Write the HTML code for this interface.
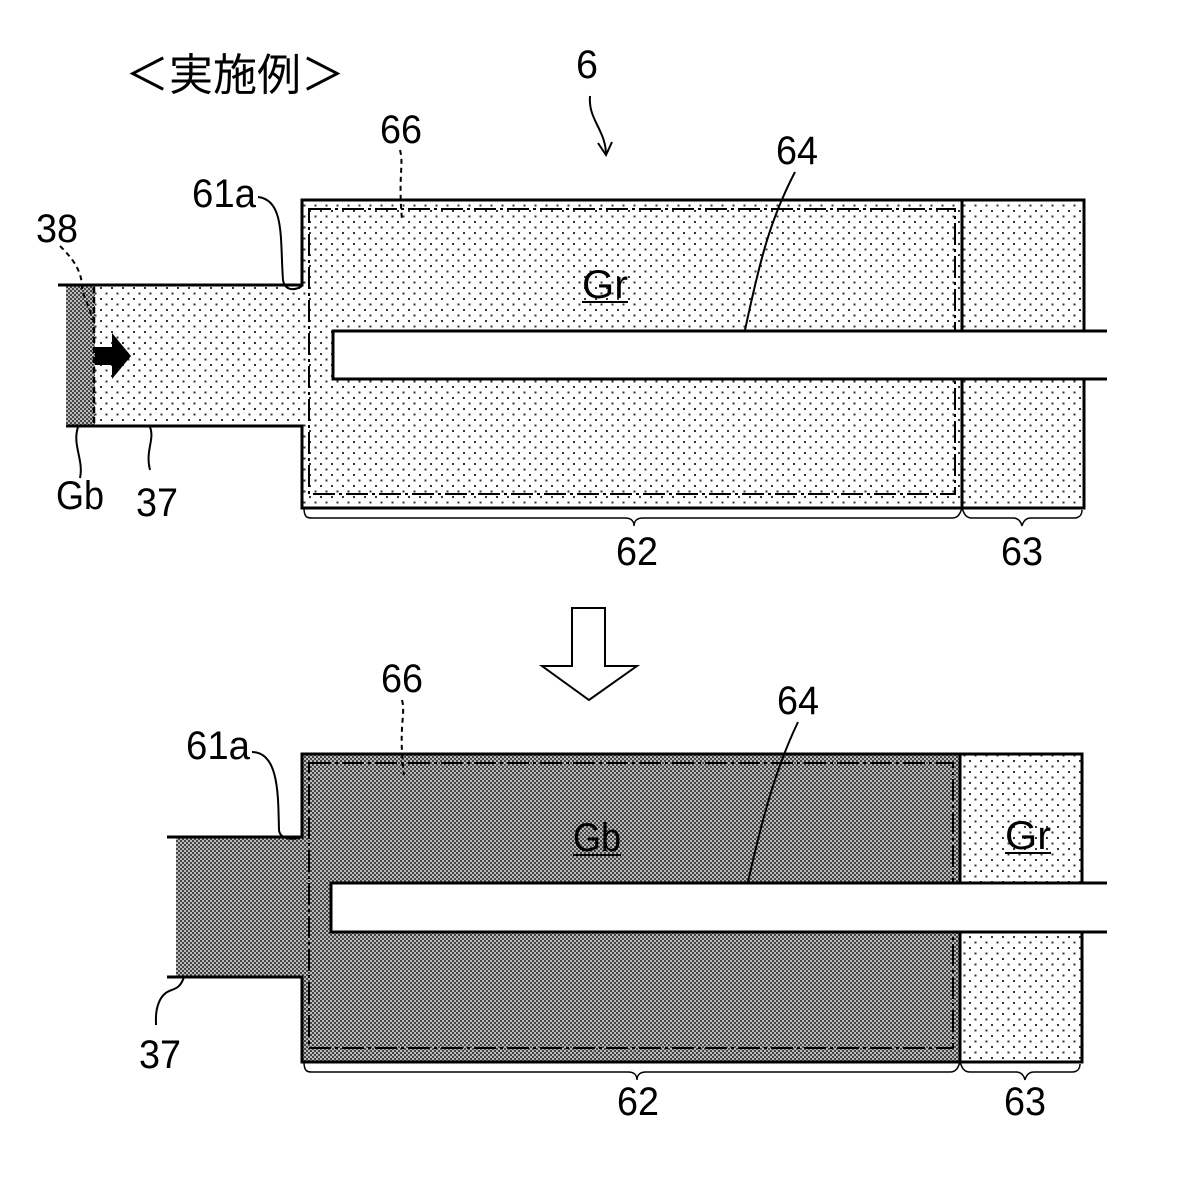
<!DOCTYPE html>
<html><head><meta charset="utf-8"><style>html,body{margin:0;padding:0;background:#fff}svg{display:block}text{font-family:"Liberation Sans","Noto Sans CJK JP",sans-serif;fill:#000}</style></head><body>
<svg width="1200" height="1177" viewBox="0 0 1200 1177" xmlns="http://www.w3.org/2000/svg">
<defs>
<pattern id="dots" width="11" height="11" patternUnits="userSpaceOnUse"><rect width="11" height="11" fill="#fff"/><rect x="1" y="1" width="2" height="2" fill="#333"/><rect x="6.5" y="6.5" width="2" height="2" fill="#333"/></pattern>
<pattern id="dark" width="4" height="4" patternUnits="userSpaceOnUse"><rect width="4" height="4" fill="#bbb"/><rect width="2" height="2" fill="#444"/><rect x="2" y="2" width="2" height="2" fill="#444"/></pattern>
</defs>
<rect x="95" y="286" width="208" height="140" fill="url(#dots)"/>
<rect x="66" y="286" width="29" height="140" fill="url(#dark)"/>
<rect x="302" y="201" width="660" height="307" fill="url(#dots)"/>
<rect x="962" y="201" width="122" height="307" fill="url(#dots)"/>
<g stroke="#000" stroke-width="3" fill="none">
<path d="M58 285 H302 V200 H1084 V508 H302 V426 H66"/>
<line x1="962" y1="200" x2="962" y2="508"/>
<path d="M94 287 V426" stroke-dasharray="6,4" stroke-width="2.5"/>
<rect x="309" y="209" width="646" height="285" stroke-dasharray="22,4,3,4" stroke-width="2"/>
</g>
<path d="M333 331 H1107 V379 H333 Z" fill="#fff" stroke="none"/>
<path d="M1107 331 H333 V379 H1107" fill="none" stroke="#000" stroke-width="3"/>
<path d="M95 347 H112 V333 L131 356 L112 379 V365 H95 Z" fill="#000"/>
<g stroke="#000" stroke-width="1.5" fill="none">
<path d="M304 508 C304 518 308 518 312 518 H625 C632 518 634 522 634 526 C634 522 636 518 643 518 H952 C958 518 960 514 962 508 C964 514 966 518 972 518 H1013 C1019 518 1021 522 1022 526 C1023 522 1025 518 1031 518 H1074 C1080 518 1082 514 1082 510"/>
</g>
<path d="M572 608 H605 V666 H637 L589 700 L542 666 H572 Z" fill="#fff" stroke="#000" stroke-width="2"/>
<rect x="176" y="838" width="127" height="139" fill="url(#dark)"/>
<rect x="302" y="755" width="658" height="307" fill="url(#dark)"/>
<rect x="960" y="755" width="122" height="307" fill="url(#dots)"/>
<g stroke="#000" stroke-width="3" fill="none">
<path d="M167 837 H302 V754 H1082 V1062 H302 V977 H167"/>
<line x1="960" y1="754" x2="960" y2="1062"/>
<rect x="309" y="763" width="644" height="285" stroke-dasharray="22,4,3,4" stroke-width="2"/>
</g>
<path d="M331 883 H1107 V932 H331 Z" fill="#fff" stroke="none"/>
<path d="M1107 883 H331 V932 H1107" fill="none" stroke="#000" stroke-width="3"/>
<g stroke="#000" stroke-width="1.5" fill="none">
<path d="M304 1062 C304 1072 308 1072 312 1072 H628 C635 1072 637 1076 637 1080 C637 1076 639 1072 646 1072 H950 C956 1072 958 1068 960 1062 C962 1068 964 1072 970 1072 H1016 C1022 1072 1024 1076 1025 1080 C1026 1076 1028 1072 1034 1072 H1072 C1078 1072 1080 1068 1080 1064"/>
</g>
<g font-size="40">
<text x="125" y="90" font-size="44">＜実施例＞</text>
<text x="576" y="78" textLength="22" lengthAdjust="spacingAndGlyphs">6</text>
<text x="380" y="143" textLength="42" lengthAdjust="spacingAndGlyphs">66</text>
<text x="776" y="164" textLength="42" lengthAdjust="spacingAndGlyphs">64</text>
<text x="192" y="207" textLength="64" lengthAdjust="spacingAndGlyphs">61a</text>
<text x="36" y="242" textLength="42" lengthAdjust="spacingAndGlyphs">38</text>
<text x="56" y="509" textLength="48" lengthAdjust="spacingAndGlyphs">Gb</text>
<text x="136" y="516" textLength="42" lengthAdjust="spacingAndGlyphs">37</text>
<text x="616" y="565" textLength="42" lengthAdjust="spacingAndGlyphs">62</text>
<text x="1001" y="565" textLength="42" lengthAdjust="spacingAndGlyphs">63</text>
<text x="582" y="298" textLength="46" lengthAdjust="spacingAndGlyphs">Gr</text>
<text x="381" y="692" textLength="42" lengthAdjust="spacingAndGlyphs">66</text>
<text x="777" y="714" textLength="42" lengthAdjust="spacingAndGlyphs">64</text>
<text x="186" y="759" textLength="64" lengthAdjust="spacingAndGlyphs">61a</text>
<text x="139" y="1068" textLength="42" lengthAdjust="spacingAndGlyphs">37</text>
<text x="617" y="1115" textLength="42" lengthAdjust="spacingAndGlyphs">62</text>
<text x="1004" y="1115" textLength="42" lengthAdjust="spacingAndGlyphs">63</text>
<text x="573" y="851" textLength="48" lengthAdjust="spacingAndGlyphs">Gb</text>
<text x="1005" y="849" textLength="46" lengthAdjust="spacingAndGlyphs">Gr</text>
</g>
<g stroke="#000" fill="none" stroke-width="2">
<line x1="582" y1="302" x2="628" y2="302"/>
<line x1="573" y1="855" x2="621" y2="855"/>
<line x1="1005" y1="853" x2="1051" y2="853"/>
<path d="M590 96 C588 120 606 130 606 155"/><path d="M598 143 L606 155 L612 142"/>
<path d="M400 150 C404 165 398 175 402 220" stroke-dasharray="5,4"/>
<path d="M795 172 C770 220 760 260 745 330"/>
<path d="M258 197 C285 200 280 240 283 280 C285 292 296 290 302 286"/>
<path d="M60 246 C72 258 82 270 82 288 C84 300 90 305 92 320" stroke-dasharray="5,4"/>
<path d="M78 427 C72 445 84 460 80 478"/>
<path d="M150 427 C155 440 145 450 150 470"/>
<path d="M402 700 C406 715 398 725 404 775" stroke-dasharray="5,4"/>
<path d="M798 722 C775 770 762 820 748 882"/>
<path d="M252 752 C280 752 278 800 279 830 C280 840 294 840 302 837"/>
<path d="M184 977 C178 995 168 985 160 1000 C155 1010 156 1020 156 1025"/>
</g>
</svg>
</body></html>
